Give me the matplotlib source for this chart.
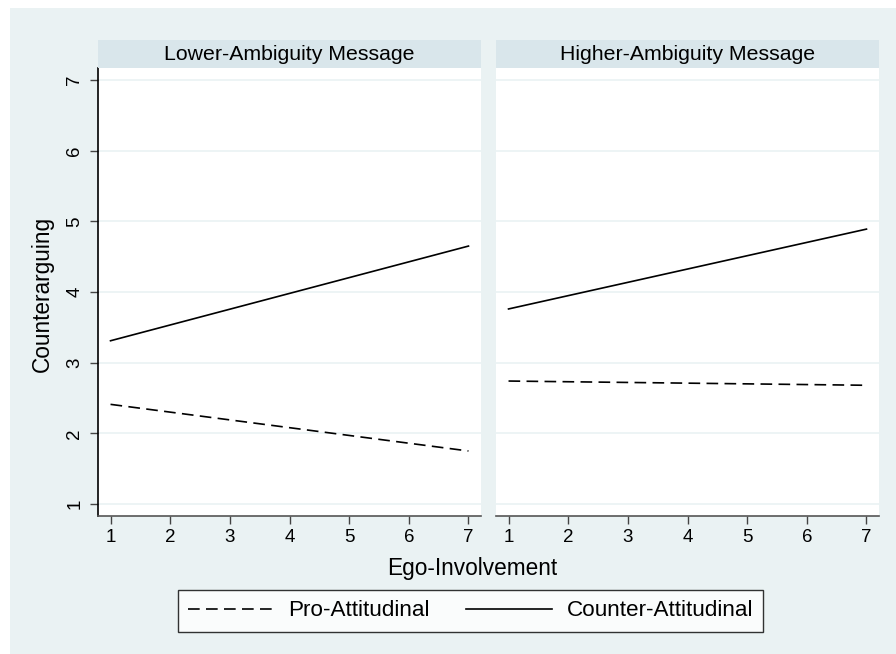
import matplotlib
matplotlib.use("Agg")
import matplotlib.pyplot as plt
from matplotlib.patches import Rectangle
from matplotlib.lines import Line2D

plt.rcParams['font.family'] = ['Liberation Sans', 'DejaVu Sans']

panels = ["Lower-Ambiguity Message", "Higher-Ambiguity Message"]
x_vals = [1, 7]
pro_vals = [[2.41, 1.75], [2.74, 2.68]]
counter_vals = [[3.31, 4.65], [3.76, 4.89]]
xticks = [1, 2, 3, 4, 5, 6, 7]
yticks = [1, 2, 3, 4, 5, 6, 7]

W, H = 896, 654
bg = "#EAF2F3"
strip_c = "#D9E6EB"
dash = (0, (7, 3.8))
fig = plt.figure(figsize=(W / 100, H / 100), dpi=100)
fig.patch.set_facecolor("white")
fig.patches.append(Rectangle((10 / W, -0.01), 1.01 - 10 / W, 1.01 - 8 / H, transform=fig.transFigure,
                             facecolor=bg, edgecolor="none", zorder=-10))

def fx(px):
    return px / W

def fy(py):
    return 1 - py / H

top, bot = 68, 516
lefts = [(98, 481), (496, 879)]
for i, (l, r) in enumerate(lefts):
    ax = fig.add_axes([fx(l), fy(bot), fx(r - l), (bot - top) / H])
    ax.set_facecolor("white")
    ax.set_xlim(0.79, 7.21)
    ax.set_ylim(0.83, 7.17)
    for yv in yticks:
        ax.axhline(yv, color=bg, lw=1.2, zorder=0)
    ax.plot(x_vals, pro_vals[i], color="black", lw=1.2, ls=dash)
    ax.plot(x_vals, counter_vals[i], color="black", lw=1.2)
    ax.set_xticks(xticks)
    ax.set_xticklabels([str(t) for t in xticks], fontsize=13.5)
    ax.tick_params(axis='x', length=5.5, width=1, color="#444444", pad=4)
    for s in ["top", "right"]:
        ax.spines[s].set_visible(False)
    ax.spines["bottom"].set_color("#555555")
    ax.spines["bottom"].set_linewidth(1.2)
    if i == 0:
        ax.set_yticks(yticks)
        ax.set_yticklabels([str(t) for t in yticks], fontsize=13.5, rotation=90, va="center")
        ax.tick_params(axis='y', length=5.5, width=1, color="#444444", pad=5)
        ax.spines["left"].set_color("black")
        ax.spines["left"].set_linewidth(1.2)
    else:
        ax.set_yticks([])
        ax.spines["left"].set_visible(False)
    # strip
    sax = fig.add_axes([fx(l), fy(top), fx(r - l), (top - 40) / H])
    sax.set_facecolor(strip_c)
    sax.set_xticks([]); sax.set_yticks([])
    for s in sax.spines.values():
        s.set_visible(False)
    sax.text(0.5, 0.5, panels[i], ha="center", va="center", fontsize=15.3, transform=sax.transAxes)

fig.text(fx(42), fy(294), "Counterarguing", rotation=90, ha="center", va="center", fontsize=16.3)
fig.text(fx(472), fy(569), "Ego-Involvement", ha="center", va="center", fontsize=16.3)

handles = [Line2D([], [], color="black", lw=1.2, ls=dash),
           Line2D([], [], color="black", lw=1.2)]
leg = fig.legend(handles, ["Pro-Attitudinal", "Counter-Attitudinal"], loc="center",
                 bbox_to_anchor=(fx(470.5), fy(611)), ncol=2, frameon=True, fancybox=False,
                 fontsize=16.2, handlelength=3.8, columnspacing=1.6, handletextpad=0.67,
                 borderpad=0.45, borderaxespad=0)
leg.get_frame().set_edgecolor("black")
leg.get_frame().set_linewidth(1.0)
leg.get_frame().set_facecolor("white")

fig.savefig("out.png", dpi=100, facecolor=fig.get_facecolor())
